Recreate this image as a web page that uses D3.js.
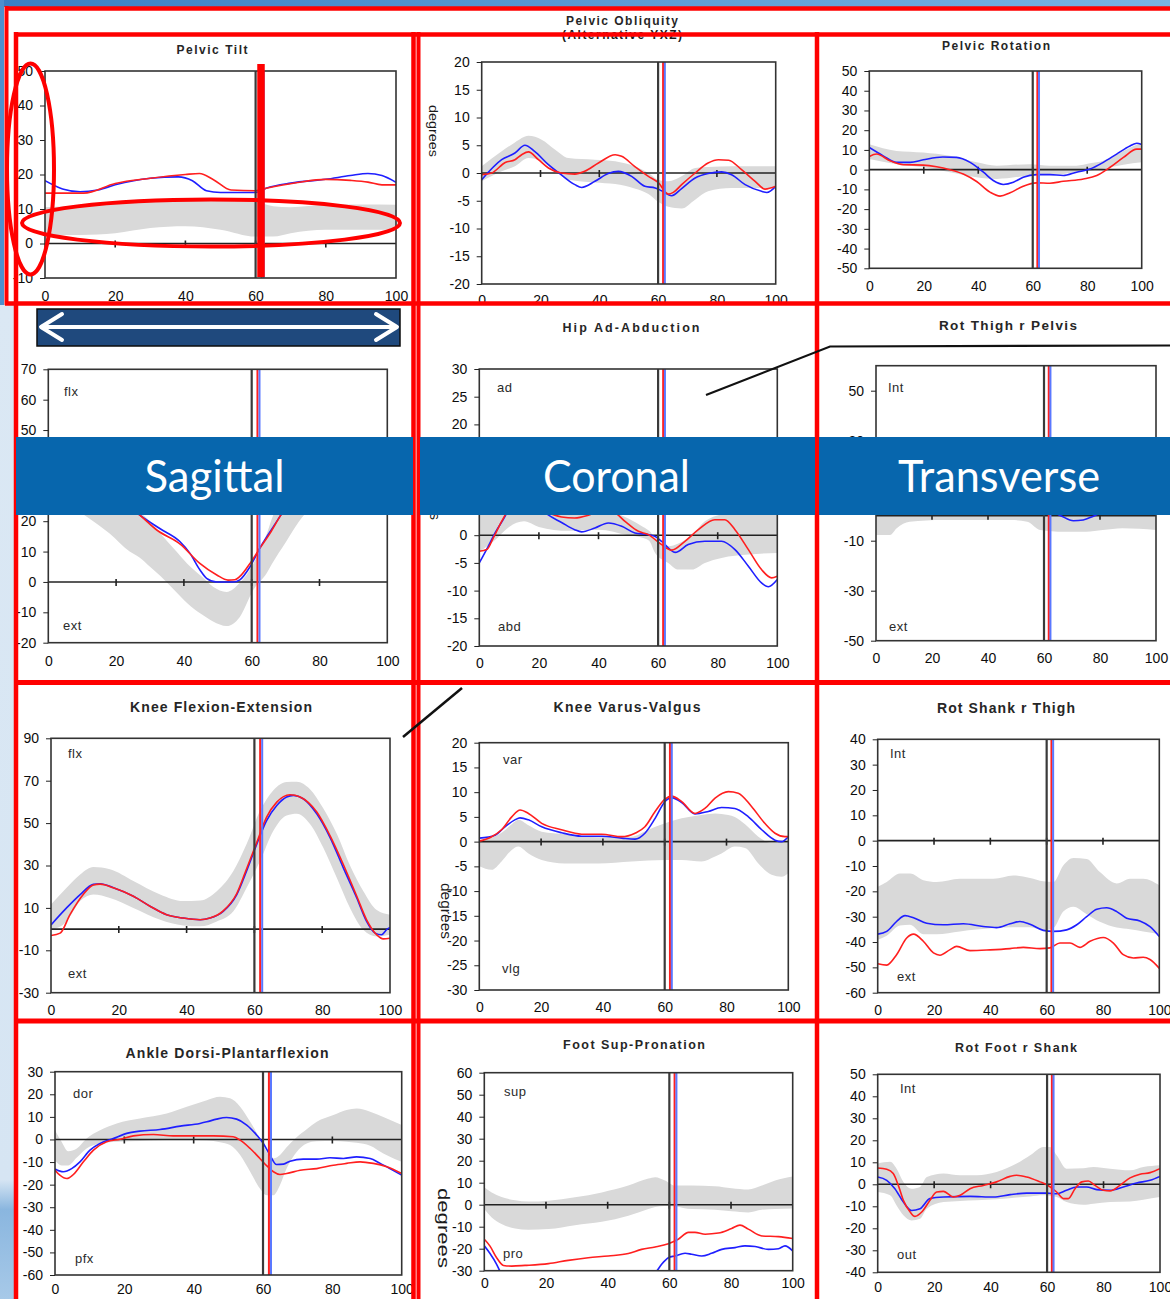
<!DOCTYPE html>
<html>
<head>
<meta charset="utf-8">
<script src="https://cdn.jsdelivr.net/npm/d3@7"></script>
<style>
html,body{margin:0;padding:0;background:#fff;}
svg{display:block;}
</style>
</head>
<body>
<svg id="sheet" width="1170" height="1299"></svg>
<script>
// ---------- shared gait-cycle axis ----------
const cycleTicks = [0, 20, 40, 60, 80, 100];
const toeOffNormal = 60, toeOffRight = 61.7, toeOffLeft = 62.3;

// Normative bands are [cycle %, lower, upper]; side curves are [cycle %, degrees]

// Pelvic Tilt
const tiltTicks = [-10, 0, 10, 20, 30, 40, 50];
const tiltNorm = [[0,2.5,10.5],[10,2.5,11],[20,3,12],[30,4.5,12.3],[40,5,12.3],[50,4,12.3],[60,2,12],[65,2,10.8],[70,3,10.5],[80,4,11.2],[90,4,11.3],[100,4,11.2]];
const tiltRight = [[0,14.6],[11,14.6],[20,17.4],[30,18.9],[40,20],[44,20.3],[48,18.5],[53,15.5],[60,15.3],[63,16],[72,17.7],[80,18.6],[87,18.3],[92,17.8],[96,17],[100,17]];
const tiltLeft = [[0,18.2],[5,15.8],[10,15],[15,15.5],[20,17],[30,18.9],[38,19.3],[42,18.2],[46,15.3],[50,14.8],[60,14.8],[63,16],[70,17.5],[80,18.6],[87,19.7],[92,20.3],[96,19.7],[100,17.7]];

// Pelvic Obliquity
const obliqTicks = [-20, -15, -10, -5, 0, 5, 10, 15, 20];
const obliqNorm = [[0,-1.5,1.2],[6.8,0.3,3.9],[11.3,1.2,5.5],[15.9,2.7,6.7],[20.4,2.1,6],[25,0.3,4.2],[29.5,-1.2,2.7],[38.5,-1.7,2.4],[45.4,-2,2.1],[52,-2.8,1.2],[56.7,-3.8,0],[60,-5.2,-1.2],[63.5,-6.1,-1.5],[68,-6.4,-0.6],[72.6,-4.8,0.9],[77,-3.3,1.1],[85,-2.7,1.2],[100,-2.7,1.2]];
const obliqRight = [[0,-0.3],[3.4,0],[8,1.9],[11.3,2.4],[13.6,3.3],[15.9,3.8],[19.3,2.4],[22.7,0.9],[27,0],[31.7,-0.2],[35,0.3],[39.7,1.8],[45.4,3.3],[47.6,3],[52,1.2],[56.7,-0.6],[60,-1.7],[63.5,-3.8],[65.2,-3.5],[68,-2.1],[72.6,0],[77,1.8],[80.5,2.4],[84,2.3],[88.4,0.6],[93,-1.5],[96.4,-2.9],[100,-2.4]];
const obliqLeft = [[0,-1.2],[6.8,2.4],[11.3,3.6],[14.7,5],[18,3.9],[22.7,1.5],[27,-0.3],[31.7,-2.1],[34,-2.6],[38.5,-1.5],[43,-0.1],[46.5,0.3],[51,-0.6],[55.5,-2.4],[59,-2.7],[61.2,-3.2],[64.6,-4.1],[68,-2.8],[72.6,-0.9],[77,-0.1],[81.6,0.2],[85,-0.3],[89.6,-2.1],[95.2,-3.3],[97,-3.5],[100,-2.4]];

// Pelvic Rotation
const pelvRotTicks = [-50, -40, -30, -20, -10, 0, 10, 20, 30, 40, 50];
const pelvRotNorm = [[0,5.4,12.9],[10,2.8,9.5],[19.8,1.2,8.7],[29.6,-1.3,7],[39.4,-3.8,3.7],[46.8,-4.7,2],[59,-3,2.8],[66.3,-2.6,2],[71.2,-2.2,2],[76.1,-1.2,2],[81,-0.5,3.2],[85.9,0.5,4.5],[88.4,1.2,6],[93.3,2.5,9.5],[100,3.7,13.7]];
const pelvRotRight = [[0,6.7],[2.7,7.9],[7.6,4.5],[12.5,2.5],[19.8,2.3],[24.7,1.5],[29.6,0],[34.5,-2.2],[39.4,-6],[44.3,-11.4],[48,-13.4],[51.7,-11.7],[56.5,-8.4],[61.4,-6.7],[66.3,-6.9],[71.2,-5.9],[78.6,-4.7],[83.5,-3],[88.4,1.2],[93.3,6.2],[98.2,10.4],[100,10.4]];
const pelvRotLeft = [[0,11.2],[5.1,7],[10,3.7],[15,3.7],[19.8,5],[27,6.4],[32,6.2],[37,3.7],[41.9,-1.3],[45.5,-5.5],[49.2,-7.5],[52.9,-6.4],[56.5,-3.8],[61.4,-2.5],[66.3,-2.5],[71.2,-3],[76.1,-1.3],[81,0.3],[85.9,3.7],[90.8,7.9],[95.7,12],[98.2,13.4],[100,12.7]];

// Hip Flexion-Extension
const hipFlexTicks = [-20, -10, 0, 10, 20, 30, 40, 50, 60, 70];
const hipFlexNorm = [[0,27,45],[6,25,43],[12,21,40],[18,16,35],[24,10,27],[27,8,23],[30,5,20],[33,2,16],[37,-2.5,11],[41,-7,6],[45,-10.5,2],[48.6,-13,-1.6],[52.6,-14.5,-3.3],[56.5,-11.5,-0.3],[60.5,-2.6,6],[64.5,3,16],[66,6,21],[70,13,28],[74,20,35],[80,27,42],[88,32,47],[95,31,46],[100,29,45]];
const hipFlexRight = [[0,38],[8,36],[15,33],[22,26.5],[27,22],[32,17.1],[39,12.4],[44.7,6.1],[49.7,2.3],[53,0.6],[55,0.7],[56.5,1.8],[59.5,6.1],[62.4,11.1],[65.4,16],[68.3,21.5],[75,32],[82,38.5],[88,41],[94,40],[100,38]];
const hipFlexLeft = [[0,40],[8,37.5],[15,33],[22,26.5],[27,22],[33,17.5],[38.8,13.3],[41.8,9.4],[44.7,4],[46.7,1.2],[49.7,0],[54.6,0],[56.5,0.7],[59.5,5],[62.4,11.1],[66.4,18.2],[68.3,21.5],[75,32],[82,39],[88,42],[94,41],[100,39]];

// Hip Ad-Abduction
const hipAbdTicks = [-20, -15, -10, -5, 0, 5, 10, 15, 20, 25, 30];
const hipAbdNorm = [[0,-3,6],[5,-1,8],[10,1.5,10],[15,2.5,10.5],[20,1.5,9],[30,0.8,6],[40,1,5],[50,0,3],[55,-0.5,1.5],[57,-1,0.8],[59,-3.2,-0.5],[63.4,-5,-2],[66.8,-6.2,-1.5],[71.3,-6.2,0],[75.7,-5,2.5],[81.3,-4.1,3.8],[90.3,-3.5,4.5],[100,-3.2,5]];
const hipAbdRight = [[0,-2.9],[2.5,-2.6],[4.7,-0.5],[7.5,2.5],[11,5.5],[15,6.8],[20,5.8],[23.7,4],[27.6,3.3],[32,3.1],[36.6,3.6],[41,4.5],[45,4.2],[48.9,2.5],[53.4,0.7],[56.7,0.1],[61.2,-1.7],[64.5,-2.7],[69,-1.1],[73.5,1],[79,2.8],[82.4,2.8],[85.8,1],[90.3,-2.6],[94.7,-6.2],[98.1,-7.7],[100,-7.4]];
const hipAbdLeft = [[0,-5],[3,-2],[5.3,0.4],[8,2.8],[11,5.5],[15,6.5],[20,5],[23,3.7],[27.6,2.3],[32,1],[34.3,0.6],[38.8,1.3],[43.3,2.2],[47.8,1.6],[52.2,0.4],[56.7,0.1],[58.9,-0.2],[61.2,-1.1],[65.7,-3.1],[70.1,-1.7],[75.7,-1.1],[81.3,-1.1],[85.8,-2.6],[90.3,-5.6],[94.7,-8.6],[97,-9.3],[100,-8]];

// Rotation Thigh relative to Pelvis
const thighRotTicks = [-50, -30, -10, 10, 30, 50];
const thighRotNorm = [[0,-7.7,12],[5,-7.7,12],[7.4,-5,12],[12,-2.4,13],[24,-1.7,14],[36,-1.7,13],[48,-1.7,12],[54,-2.4,11],[58.6,-5.7,9],[67,-6.4,8],[75,-6.4,9],[81,-5.7,11],[88,-5,12],[100,-5.7,12]];
const thighRotRight = [[0,9],[10,7],[20,6],[30,5],[40,5],[50,4],[60,5],[66,4],[72,2],[78,3],[85,6],[92,8],[100,9]];
const thighRotLeft = [[0,6],[10,4],[20,4],[30,3],[40,3],[50,2],[58,2.5],[62,2],[66,0],[70.5,-2],[74,-1.7],[78,0],[85,3],[92,5],[100,6]];

// Knee Flexion-Extension
const kneeFlexTicks = [-30, -10, 10, 30, 50, 70, 90];
const kneeFlexNorm = [[0,-0.3,11.6],[4.6,3.6,19.5],[8.6,13.2,25.8],[12.5,16.3,29.3],[17.4,14.7,28.2],[24.3,10,22.7],[32.2,4.4,16.3],[39,1.7,13.2],[44,1.3,13.5],[48.9,3.6,17.9],[53.8,8.4,27.4],[57.7,19.5,40.1],[61.7,32.2,55.9],[65.6,46.4,65.5],[69.5,53.6,69.4],[72.5,54.4,69.5],[76.4,49.6,66],[80.3,38.5,57],[84.3,24.2,45],[88.2,10,30],[92.1,-0.3,18],[96.1,-3.5,9],[100,-2.7,6.8]];
const kneeFlexRight = [[0,-3],[2.7,-1.9],[5.6,6.8],[9.5,16.3],[12.5,20.8],[14.5,21.2],[18.4,19.5],[24.3,15.5],[29.2,10.8],[34.1,6.8],[39,5.2],[44,4.4],[46.9,5.2],[50.8,8.6],[54.8,16.8],[57.7,28.5],[60.7,40.9],[63.6,52.8],[66.6,59.9],[70.5,63.4],[73.5,62.3],[78.4,55.2],[82.3,44.1],[86.2,30.6],[90.2,15.5],[93.1,4.4],[96.1,-2.7],[98,-4.6],[100,-4.3]];
const kneeFlexLeft = [[0,2],[4.6,10],[8.6,16.3],[12.5,21.1],[14.5,21.4],[18.4,19.5],[24.3,15.5],[29.2,10.8],[34.1,6.8],[39,5.2],[44,4.4],[46.9,5.2],[50.8,8.4],[54.8,16.3],[57.7,27.4],[60.7,40.1],[63.6,51.2],[66.6,58.3],[69.5,62.3],[71.5,63.1],[74.4,61.5],[78.4,54.4],[82.3,43.3],[86.2,29],[90.2,14.7],[93.1,3.6],[95.6,-1.9],[97.5,-2.7],[99,-0.3],[100,0.8]];

// Knee Varus-Valgus
const kneeVarTicks = [-30, -25, -20, -15, -10, -5, 0, 5, 10, 15, 20];
const kneeVarNorm = [[0,-5,0.3],[4,-5.7,0.8],[7.2,-4,1.8],[10.5,-1.7,3.5],[12.6,-1,4.4],[15.9,-2.4,3.3],[20.2,-3.7,2],[27.7,-4.4,1.5],[38.5,-4.4,0.9],[49.3,-4,1],[54.7,-3.8,2.4],[60.1,-3.7,3.7],[65.5,-3.7,4.7],[71.9,-4,5.4],[76.3,-3,5.7],[78.4,-2.4,5.6],[82.7,-1,5],[86,-1.3,3.5],[90.3,-4.4,1],[94.6,-6.7,-0.3],[97.8,-7.1,-0.3],[100,-6.4,-0.3]];
const kneeVarRight = [[0,0.1],[4,1],[7.2,2.4],[10.5,5],[13.2,6.4],[15.9,5.7],[20.2,3.7],[26.6,2.4],[33.1,1.5],[39.6,1.5],[46.1,1],[50.4,1.7],[53.6,3],[56.9,6.1],[60.1,8.6],[62.2,9.2],[65.5,8.1],[69.8,5.7],[73,6.7],[76.3,8.8],[80.6,10.1],[83.8,9.8],[88.1,7.1],[92.4,3.7],[95.7,1.7],[98.9,1],[100,1]];
const kneeVarLeft = [[0,0.7],[5.1,1.3],[8.3,3],[11.5,4.4],[13.2,4.8],[15.9,4.4],[20.2,3],[26.6,1.8],[33.1,1.1],[39.6,1.1],[46.1,0.7],[50.4,0.5],[53.6,1.7],[56.9,4.7],[60.1,8.1],[62.2,8.9],[65.5,7.9],[69.8,5.6],[74.1,6.1],[78.4,6.9],[82.7,6.7],[87.1,5],[91.4,2.4],[95.7,0.3],[97.8,0],[100,1]];

// Rotation Shank relative to Thigh
const shankRotTicks = [-60, -50, -40, -30, -20, -10, 0, 10, 20, 30, 40];
const shankRotNorm = [[0,-39.1,-18.2],[3.2,-37.5,-16.3],[7.9,-33.5,-13],[11.5,-33.2,-13],[16.2,-36.9,-15.6],[20.9,-36.9,-16.3],[29.2,-35.8,-15],[41.1,-34.5,-15],[48.2,-34.2,-13.7],[54.1,-34.2,-14.7],[58.8,-35.4,-16],[62.4,-34.5,-16.3],[65.9,-28,-9.8],[69.5,-26.1,-6.8],[74.2,-29,-7.2],[78.9,-32,-12.4],[84.9,-34.3,-16.9],[89.6,-35,-15],[94.3,-35.8,-15],[100,-36.9,-17.6]];
const shankRotRight = [[0,-48.6],[3.2,-49.1],[6.7,-45],[10.3,-38.4],[12.7,-36.9],[16.2,-39.7],[19.8,-44.3],[22.1,-45.2],[25.7,-43],[28,-41.7],[32.8,-43.4],[39.9,-43.1],[47,-42.6],[51.7,-42.1],[57.6,-42.6],[61.2,-42.3],[64.7,-40.4],[68.3,-40.4],[71.8,-42.1],[75.4,-39.7],[80.1,-38.2],[83.7,-40.4],[87.2,-45],[90.8,-46.3],[94.3,-46],[96.7,-46.9],[100,-50.4]];
const shankRotLeft = [[0,-36.9],[3.2,-35.8],[6.7,-31.9],[9.7,-29.6],[12.7,-30.4],[17.4,-32.6],[23.3,-33.2],[30.4,-32.8],[37.5,-33.9],[42.2,-34.3],[47,-32.8],[50.5,-31.9],[54.1,-33],[58.8,-35.4],[62.4,-35.8],[67.1,-35.2],[70.7,-33.2],[74.2,-30],[77.8,-27.1],[81.3,-26.5],[84.9,-28],[88.4,-30.6],[93.1,-31.7],[96.7,-33.9],[100,-37.8]];

// Ankle Dorsi-Plantarflexion
const ankleTicks = [-60, -50, -40, -30, -20, -10, 0, 10, 20, 30];
const ankleNorm = [[0,-9.2,4.1],[1.9,-11.5,-1],[3.8,-11.5,-5.2],[6.3,-8,-4],[9.1,-4,0.4],[13,-1.8,4.1],[17.8,-1,7.1],[24.5,-0.7,9.3],[32.2,-0.3,11.5],[38,-0.3,14.5],[43.8,-0.5,17.4],[47.6,-1.2,18.9],[50.5,-2.5,18.2],[53.4,-6.9,14.5],[56.3,-14.3,7.8],[59.1,-21.7,0.4],[61.1,-24.7,-5.5],[63,-24.7,-8.4],[64.9,-20.2,-6.9],[66.8,-12.9,-3.5],[69.7,-5.5,1],[72.6,-1.8,4.5],[75.5,-0.8,7.8],[80.3,-0.7,10.8],[84.1,-1,13],[87,-1.5,13.7],[90.9,-2.8,12.3],[94.7,-6.2,10],[100,-9.9,6.4]];
const ankleRight = [[0,-13.6],[1.4,-15.8],[3.4,-17.3],[5.3,-15.5],[8.2,-9.9],[11.1,-4.7],[14.9,-1],[18.8,0.1],[22.6,1.6],[28.4,2.2],[34.1,1.6],[39.9,1.6],[45.7,1.6],[51.4,1.2],[53.4,-0.3],[56.3,-4],[59.1,-8.4],[61.1,-11.7],[63,-14.3],[64.9,-15.5],[66.8,-15.1],[70.7,-13.6],[75.5,-12.9],[80.3,-11.4],[84.1,-10.6],[88,-9.9],[91.8,-10.6],[95.7,-12.1],[100,-15.1]];
const ankleLeft = [[0,-13.1],[2.4,-14.3],[4.8,-12.9],[7.2,-9.9],[10.1,-4.7],[13,-1.8],[16.8,0.4],[20.7,2.7],[24.5,3.7],[30.3,4.4],[36.1,5.9],[41.8,7.1],[43.8,7.8],[46.6,9],[49.5,9.7],[52.4,9],[55.3,6.4],[58.2,1.9],[60.1,-1.8],[62,-6.9],[63.9,-11.1],[65.9,-10.9],[67.8,-9.6],[71.6,-8.7],[75.5,-8.7],[79.3,-8.1],[83.2,-8.4],[87,-7.7],[90.9,-8.4],[93.8,-10.6],[96.6,-12.9],[100,-15.8]];

// Foot Sup-Pronation
const footTicks = [-30, -20, -10, 0, 10, 20, 30, 40, 50, 60];
const footNorm = [[0,-2,7.9],[2.4,-5.8,5.5],[5.6,-8.8,3.5],[10,-10.8,2],[14.3,-11.4,1.4],[20.8,-11.1,1.8],[29.4,-9.3,3.4],[38.1,-7.8,5.6],[46.7,-5,8.7],[53.2,-2,11.9],[55.4,-1,12.5],[58.6,-0.6,11],[61.8,-0.8,8.7],[67.2,-2,8.7],[74.8,-2.3,8.4],[80.2,-3,7.5],[85.6,-3.5,6.9],[90,-2.3,8.7],[94.3,-2,11],[100,-1.7,12.8]];
const footRight = [[0,-15.7],[1.8,-18.7],[4,-24.1],[6.2,-27.6],[8.9,-27.9],[13.2,-27.6],[20.8,-26.8],[27.2,-25.3],[33.7,-24.1],[40.2,-23.3],[46.7,-22.2],[51,-20.3],[55.4,-19.2],[59.7,-17.7],[62.9,-15.7],[66.2,-12.6],[68.3,-12.6],[71.6,-13.4],[75.9,-12.9],[80.2,-10.8],[82.9,-9.3],[85.6,-11.1],[90,-14.2],[95.4,-14.5],[100,-15.4]];
const footLeft = [[0,-18.7],[1.8,-22.1],[4,-27.1],[5.1,-30.2],[8,-34],[20,-36],[35,-37],[48,-35],[53,-33],[55.9,-30.2],[57.5,-27.1],[59.7,-24.1],[61.8,-23.3],[65.1,-22.1],[67.2,-22.5],[70.5,-23.3],[73.7,-22.1],[77,-20.3],[81.3,-19.5],[84.5,-18.7],[87.8,-19],[92.1,-20.3],[95.4,-20],[97.5,-18.7],[100,-21]];

// Rotation Foot relative to Shank
const footRotTicks = [-40, -30, -20, -10, 0, 10, 20, 30, 40, 50];
const footRotNorm = [[0,-3.5,9.4],[4.4,-5,10.2],[6.7,-9.6,7.1],[9.1,-14.1,1.1],[12,-16.4,-2],[15,-15.7,-1.2],[17.4,-11.1,3.3],[23.3,-8.1,4.9],[29.2,-7.6,4.1],[35.1,-7.3,4.1],[42.1,-6.8,5.6],[49.2,-6,9.4],[54,-5.5,13.2],[58.7,-5,17],[61,-5.2,17],[63.4,-5.8,13.2],[66.9,-8.1,7.1],[72.8,-9.3,7.3],[76.4,-8.8,7.9],[82.3,-8.1,7.1],[89.4,-7.8,6.4],[94.1,-7,7.9],[100,-5.8,8.7]];
const footRotRight = [[0,7.4],[3.2,6.8],[5.5,4.9],[7.3,-0.5],[9.1,-7.3],[11.5,-12.6],[13.2,-14.6],[15.6,-12.6],[18.5,-7.3],[20.9,-3.5],[23.3,-3.2],[26.8,-5.8],[29.2,-5],[32.7,-2],[37.4,-0.5],[42.1,1.1],[46.9,3.6],[49.2,4.1],[52.8,3.3],[57.5,1.1],[59.9,-0.2],[63.4,-3.5],[65.8,-6.5],[67.5,-6.5],[69.9,-2],[72.3,1.1],[74.6,1.5],[77,-0.5],[79.9,-2.7],[82.3,-3],[85.8,-0.5],[89.4,2.9],[92.9,4.6],[96.5,5.3],[100,7.1]];
const footRotLeft = [[0,3.3],[3.2,1.8],[6.1,-2],[9.1,-8.1],[12,-11.9],[15,-11.1],[18.5,-6.5],[23.3,-5.8],[32.7,-5.5],[41,-5.8],[46.9,-4.7],[52.8,-4],[59.9,-4],[63.4,-4.3],[66.9,-2.7],[70.5,-1.2],[74,-1.2],[77.6,-2.4],[82.3,-2.7],[87,-1.2],[91.7,0.6],[96.5,1.8],[100,3.6]];

// ---------- panel table ----------
const panels = [
  {title:"Pelvic Tilt", domain:[-10,50], ticks:tiltTicks, norm:tiltNorm, right:tiltRight, left:tiltLeft, notes:[]},
  {title:"Pelvic Obliquity", subtitle:"(Alternative YXZ)", domain:[-20,20], ticks:obliqTicks, norm:obliqNorm, right:obliqRight, left:obliqLeft, notes:[], ylabel:"degrees"},
  {title:"Pelvic Rotation", domain:[-50,50], ticks:pelvRotTicks, norm:pelvRotNorm, right:pelvRotRight, left:pelvRotLeft, notes:[]},
  {title:"", domain:[-20,70], ticks:hipFlexTicks, norm:hipFlexNorm, right:hipFlexRight, left:hipFlexLeft, notes:["flx","ext"]},
  {title:"Hip Ad-Abduction", domain:[-20,30], ticks:hipAbdTicks, norm:hipAbdNorm, right:hipAbdRight, left:hipAbdLeft, notes:["ad","abd"], ylabel:"degrees"},
  {title:"Rot Thigh  r Pelvis", domain:[-50,60], ticks:thighRotTicks, norm:thighRotNorm, right:thighRotRight, left:thighRotLeft, notes:["Int","ext"]},
  {title:"Knee Flexion-Extension", domain:[-30,90], ticks:kneeFlexTicks, norm:kneeFlexNorm, right:kneeFlexRight, left:kneeFlexLeft, notes:["flx","ext"]},
  {title:"Knee Varus-Valgus", domain:[-30,20], ticks:kneeVarTicks, norm:kneeVarNorm, right:kneeVarRight, left:kneeVarLeft, notes:["var","vlg"], ylabel:"degrees"},
  {title:"Rot Shank r Thigh", domain:[-60,40], ticks:shankRotTicks, norm:shankRotNorm, right:shankRotRight, left:shankRotLeft, notes:["Int","ext"]},
  {title:"Ankle Dorsi-Plantarflexion", domain:[-60,30], ticks:ankleTicks, norm:ankleNorm, right:ankleRight, left:ankleLeft, notes:["dor","pfx"]},
  {title:"Foot Sup-Pronation", domain:[-30,60], ticks:footTicks, norm:footNorm, right:footRight, left:footLeft, notes:["sup","pro"], ylabel:"degrees"},
  {title:"Rot Foot r Shank", domain:[-40,50], ticks:footRotTicks, norm:footRotNorm, right:footRotRight, left:footRotLeft, notes:["Int","out"]}
];

// Placement of each panel on the sheet: plot box [left,right,top,bottom],
// title [cx, baseline, size, bold, width], note anchors, y-label [cx, cy, size, length],
// xpad = gap between plot bottom and cycle labels
const layout = [
  {box:[45,396,71,278], title:[212,54,12,true,71], notePos:[], ylab:null, xpad:13},
  {box:[481.7,775.7,62,284], title:[622,25,12,true,112], sub:[622,39], notePos:[], ylab:[433,131,13,52], xpad:11},
  {box:[869.3,1141.7,71,268.3], title:[996,50,12,true,108], notePos:[], ylab:null, xpad:13},
  {box:[48.3,387.3,369.3,642.7], title:null, notePos:[[64,396],[63,630]], ylab:null, xpad:13},
  {box:[479.3,777.3,369,646], title:[631,332,12.5,true,137], notePos:[[497,392],[498,631]], ylab:[435,494,14,52], xpad:12},
  {box:[876,1156,365.7,640.7], title:[1008,330,13.5,true,138], notePos:[[888,392],[889,631]], ylab:null, xpad:12},
  {box:[51,390,738.3,992.7], title:[221,712,14,true,182], notePos:[[68,758],[68,978]], ylab:null, xpad:12},
  {box:[479.3,788.3,742.7,990], title:[627,712,14,true,147], notePos:[[503,764],[502,973]], ylab:[446,911,14,56], xpad:12},
  {box:[877.7,1159.3,739.3,992.7], title:[1006,713,14,true,138], notePos:[[890,758],[897,981]], ylab:null, xpad:12},
  {box:[55,401.7,1071.7,1275], title:[227,1058,14,true,203], notePos:[[73,1098],[75,1263]], ylab:null, xpad:9},
  {box:[484.3,792.7,1072.7,1270.7], title:[634,1049,12.5,true,142], notePos:[[504,1096],[503,1258]], ylab:[443,1228,16,80], xpad:7},
  {box:[877.7,1160,1074.3,1272.3], title:[1016,1052,12.5,true,122], notePos:[[900,1093],[897,1259]], ylab:null, xpad:10}
];

const FONT = "'Liberation Sans', Arial, Helvetica, sans-serif";
const svg = d3.select("#sheet");
const defs = svg.append("defs");

// ---------- page backdrop ----------
const topGrad = defs.append("linearGradient").attr("id","topStrip").attr("x1","0%").attr("x2","100%");
topGrad.append("stop").attr("offset","0%").attr("stop-color","#3b7fc3");
topGrad.append("stop").attr("offset","100%").attr("stop-color","#7ab3e2");
const sideGrad = defs.append("linearGradient").attr("id","sideStrip").attr("x1","0%").attr("y1","0%").attr("x2","0%").attr("y2","100%");
sideGrad.append("stop").attr("offset","0%").attr("stop-color","#dbe8f4");
sideGrad.append("stop").attr("offset","88%").attr("stop-color","#d6e5f3");
sideGrad.append("stop").attr("offset","91%").attr("stop-color","#8ab6df");
sideGrad.append("stop").attr("offset","100%").attr("stop-color","#a7c9e8");

svg.append("rect").attr("width",1170).attr("height",1299).attr("fill","#fff");
svg.append("rect").attr("x",0).attr("y",0).attr("width",1170).attr("height",7).attr("fill","url(#topStrip)");
svg.append("rect").attr("x",0).attr("y",0).attr("width",4).attr("height",305).attr("fill","#4e8fcd");
svg.append("rect").attr("x",0).attr("y",305).attr("width",14).attr("height",994).attr("fill","url(#sideStrip)");

// ---------- gait panels ----------
panels.forEach((p, i) => {
  const L = layout[i];
  const [x0, x1, y0, y1] = L.box;
  const x = d3.scaleLinear().domain([0, 100]).range([x0, x1]);
  const y = d3.scaleLinear().domain(p.domain).range([y1, y0]);
  const g = svg.append("g").attr("class", "panel");

  defs.append("clipPath").attr("id", "plot" + i)
    .append("rect").attr("x", x0).attr("y", y0).attr("width", x1 - x0).attr("height", y1 - y0);
  const plot = g.append("g").attr("clip-path", `url(#plot${i})`);

  // normative corridor
  plot.append("path").datum(p.norm)
    .attr("fill", "#d9d9d9")
    .attr("d", d3.area().x(d => x(d[0])).y0(d => y(d[1])).y1(d => y(d[2])).curve(d3.curveMonotoneX));

  // zero line with cycle ticks
  plot.append("line").attr("x1", x(0)).attr("x2", x(100)).attr("y1", y(0)).attr("y2", y(0))
    .attr("stroke", "#222").attr("stroke-width", 1.6);
  plot.selectAll(".zt").data(cycleTicks.slice(1, -1)).join("line")
    .attr("x1", d => x(d)).attr("x2", d => x(d)).attr("y1", y(0) - 3).attr("y2", y(0) + 4)
    .attr("stroke", "#222").attr("stroke-width", 1.6);

  // left / right side curves
  const line = d3.line().x(d => x(d[0])).y(d => y(d[1])).curve(d3.curveMonotoneX);
  plot.append("path").datum(p.left).attr("d", line).attr("fill", "none").attr("stroke", "#1f1fff").attr("stroke-width", 1.6);
  plot.append("path").datum(p.right).attr("d", line).attr("fill", "none").attr("stroke", "#ff1f1f").attr("stroke-width", 1.6);

  // toe-off markers
  [[toeOffNormal, "#3a3a3a", 2.2], [toeOffRight, "#ff2020", 2], [toeOffLeft, "#5a78ff", 2]].forEach(([v, c, w]) => {
    plot.append("line").attr("x1", x(v)).attr("x2", x(v)).attr("y1", y0).attr("y2", y1)
      .attr("stroke", c).attr("stroke-width", w);
  });

  // frame
  g.append("rect").attr("x", x0).attr("y", y0).attr("width", x1 - x0).attr("height", y1 - y0)
    .attr("fill", "none").attr("stroke", "#333").attr("stroke-width", 1.6);

  // axes
  const ya = g.append("g").attr("transform", `translate(${x0},0)`)
    .call(d3.axisLeft(y).tickValues(p.ticks).tickFormat(d => String(d)).tickSize(5).tickPadding(7));
  const xa = g.append("g").attr("transform", `translate(0,${y1})`)
    .call(d3.axisBottom(x).tickValues(cycleTicks).tickFormat(d => String(d)).tickSize(0).tickPadding(L.xpad));
  [ya, xa].forEach(a => {
    a.select(".domain").remove();
    a.attr("color", "#222").attr("font-family", FONT).attr("font-size", 14);
    a.selectAll("text").attr("fill", "#0d0d0d");
  });

  // titles
  if (L.title) {
    const [cx, by, fs, bold, w] = L.title;
    g.append("text").attr("x", cx).attr("y", by).attr("text-anchor", "middle")
      .attr("font-family", FONT).attr("font-size", fs).attr("font-weight", bold ? "bold" : "normal")
      .attr("fill", "#262626").attr("textLength", w).attr("lengthAdjust", "spacing")
      .text(p.title);
  }
  if (p.subtitle && L.sub) {
    g.append("text").attr("x", L.sub[0]).attr("y", L.sub[1]).attr("text-anchor", "middle")
      .attr("font-family", FONT).attr("font-size", 12).attr("font-weight", "bold")
      .attr("fill", "#1a1a1a").attr("textLength", 120).attr("lengthAdjust", "spacing")
      .text(p.subtitle);
  }
  // direction notes
  p.notes.forEach((t, k) => {
    const pos = L.notePos[k];
    g.append("text").attr("x", pos[0]).attr("y", pos[1])
      .attr("font-family", FONT).attr("font-size", 13).attr("fill", "#2a2a2a")
      .attr("letter-spacing", 0.5).text(t);
  });
  // vertical unit label
  if (p.ylabel && L.ylab) {
    g.append("text").attr("transform", `translate(${L.ylab[0]},${L.ylab[1]}) rotate(90)`)
      .attr("text-anchor", "middle").attr("dominant-baseline", "central")
      .attr("font-family", FONT).attr("font-size", L.ylab[2]).attr("fill", "#1a1a1a")
      .attr("textLength", L.ylab[3]).attr("lengthAdjust", "spacingAndGlyphs")
      .text(p.ylabel);
  }
});

// ---------- red grid frames ----------
const red = svg.append("g").attr("stroke", "#ff0000").attr("fill", "none");
const hLines = [[5, 1170, 8.5, 4.5], [14, 1170, 34.5, 4.5], [5, 1170, 303.5, 4.5], [14, 1170, 682.5, 5], [14, 1170, 1021, 5]];
hLines.forEach(([a, b, yy, w]) => red.append("line").attr("x1", a).attr("x2", b).attr("y1", yy).attr("y2", yy).attr("stroke-width", w));
const vLines = [[6.5, 6, 305, 4], [16, 32, 1299, 4.5], [413.5, 32, 1299, 4.5], [418.5, 32, 1299, 4], [817, 32, 1299, 4.5]];
vLines.forEach(([xx, a, b, w]) => red.append("line").attr("x1", xx).attr("x2", xx).attr("y1", a).attr("y2", b).attr("stroke-width", w));

// highlight marks on the pelvic tilt panel
red.append("ellipse").attr("cx", 30.5).attr("cy", 169).attr("rx", 23.5).attr("ry", 105.5).attr("stroke-width", 4);
red.append("ellipse").attr("cx", 211).attr("cy", 223).attr("rx", 189).attr("ry", 23.5).attr("stroke-width", 4);
red.append("line").attr("x1", 261).attr("x2", 261).attr("y1", 64).attr("y2", 277).attr("stroke-width", 7.5);

// ---------- navy range arrow ----------
const arrow = svg.append("g");
arrow.append("rect").attr("x", 37).attr("y", 309).attr("width", 363).attr("height", 37)
  .attr("fill", "#1f497d").attr("stroke", "#0d0d0d").attr("stroke-width", 1.5);
arrow.append("line").attr("x1", 42).attr("x2", 396).attr("y1", 327).attr("y2", 327)
  .attr("stroke", "#fff").attr("stroke-width", 4);
arrow.append("path").attr("d", "M62,314 L41,327 L62,340").attr("fill", "none").attr("stroke", "#fff").attr("stroke-width", 4).attr("stroke-linejoin", "round").attr("stroke-linecap", "round");
arrow.append("path").attr("d", "M376,314 L397,327 L376,340").attr("fill", "none").attr("stroke", "#fff").attr("stroke-width", 4).attr("stroke-linejoin", "round").attr("stroke-linecap", "round");

// ---------- connector strokes ----------
svg.append("path").attr("d", "M706,395 L830,346.5 L1170,345.5").attr("fill", "none").attr("stroke", "#111").attr("stroke-width", 2.2);
svg.append("path").attr("d", "M403,737 L462,688").attr("fill", "none").attr("stroke", "#111").attr("stroke-width", 2.5);

// ---------- plane banners ----------
const planes = ["Sagittal", "Coronal", "Transverse"];
const bannerSpans = [[16, 413], [420, 815], [819, 1170]];
const bannerText = [[214.5, 140], [616.5, 147], [999, 202]];
const banner = svg.append("g");
planes.forEach((name, k) => {
  const [a, b] = bannerSpans[k];
  banner.append("rect").attr("x", a).attr("y", 437).attr("width", b - a).attr("height", 78).attr("fill", "#0766ad");
  banner.append("text").attr("x", bannerText[k][0]).attr("y", 492).attr("text-anchor", "middle")
    .attr("font-family", "Lato, 'Open Sans', sans-serif").attr("font-size", 45).attr("fill", "#fff")
    .attr("textLength", bannerText[k][1]).attr("lengthAdjust", "spacingAndGlyphs")
    .text(name);
});
</script>
</body>
</html>
